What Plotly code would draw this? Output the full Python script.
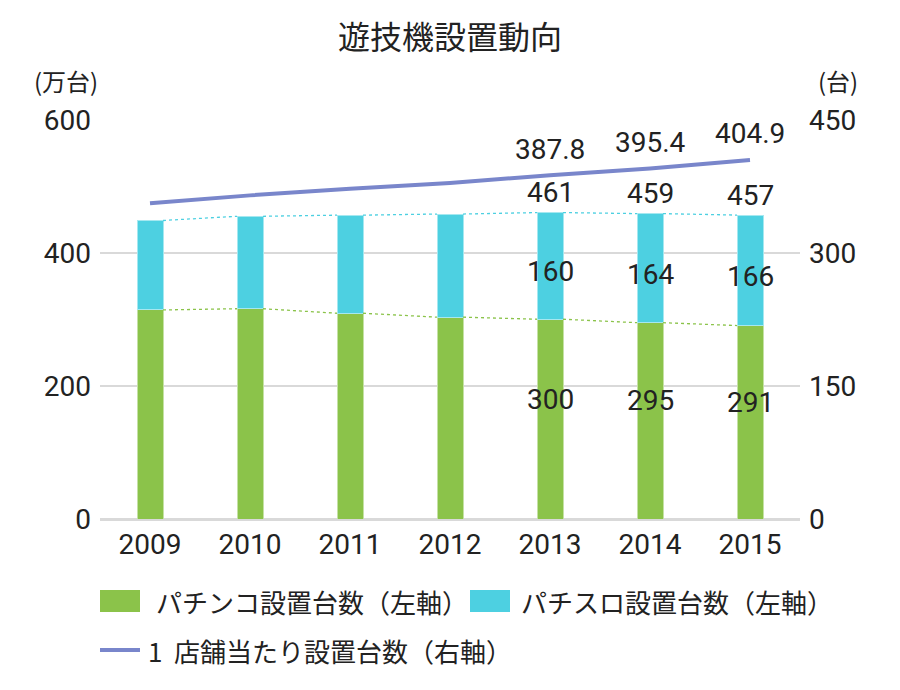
import plotly.graph_objects as go

years = [2009, 2010, 2011, 2012, 2013, 2014, 2015]
pachinko = [314.4, 316.2, 309.4, 303.5, 300.4, 295.2, 290.9]
pachislot = [134.5, 139.0, 147.5, 155.1, 160.4, 164.0, 166.1]
per_store = [356.2, 365.0, 372.5, 378.9, 387.8, 395.4, 404.9]
label_years = [2013, 2014, 2015]

left_ticks = [0, 200, 400, 600]
right_ticks = [0, 150, 300, 450]

title_text = "遊技機設置動向"
name_pachinko = "パチンコ設置台数（左軸）"
name_pachislot = "パチスロ設置台数（左軸）"
name_store = "1\u00a0\u00a0店舗当たり設置台数（右軸）"
left_unit = "(万台)"
right_unit = "(台)"

GREEN = "#8BC34A"
GREEN_EDGE = "#C5E1A5"
CYAN = "#4DD0E1"
CYAN_EDGE = "#A5E8F0"
LINE = "#7986CB"
TXT = "#222222"
GRID = "#D9D9D9"
NUMF = "Roboto, Noto Sans CJK JP, sans-serif"
JPF = "Noto Sans CJK JP, sans-serif"

W, H = 900, 690
PL, PR, PT, PB = 100, 100, 120, 171
PW, PH = W - PL - PR, H - PT - PB


def px_x(px):
    return (px - PL) / PW


def px_y(py):
    return (H - PB - py) / PH


BW = 0.26
totals = [a + b for a, b in zip(pachinko, pachislot)]

fig = go.Figure()

fig.add_trace(go.Bar(x=years, y=pachinko, width=BW, name=name_pachinko,
                     marker=dict(color=GREEN, line=dict(color=GREEN_EDGE, width=1)),
                     showlegend=False, hoverinfo="skip"))
fig.add_trace(go.Bar(x=years, y=pachislot, width=BW, name=name_pachislot,
                     marker=dict(color=CYAN, line=dict(color=CYAN_EDGE, width=1)),
                     showlegend=False, hoverinfo="skip"))

# dotted connectors between bar tops
for series, col in [(pachinko, GREEN), (totals, CYAN)]:
    for i in range(len(years) - 1):
        fig.add_trace(go.Scatter(x=[years[i] + BW / 2, years[i + 1] - BW / 2], y=[series[i], series[i + 1]],
                                 mode="lines", line=dict(color=col, width=1.3, dash="dot"),
                                 showlegend=False, hoverinfo="skip"))

fig.add_trace(go.Scatter(x=years, y=per_store, yaxis="y2", mode="lines", name=name_store,
                         line=dict(color=LINE, width=4), showlegend=False, hoverinfo="skip"))

ann = []
for i, yr in enumerate(years):
    if yr not in label_years:
        continue
    ann.append(dict(x=yr, y=pachinko[i] / 2, text=f"{pachinko[i]:.0f}", showarrow=False, yanchor="middle", yshift=20,
                    font=dict(family=NUMF, size=28, color=TXT)))
    ann.append(dict(x=yr, y=pachinko[i] + pachislot[i] / 2, text=f"{pachislot[i]:.0f}", showarrow=False,
                    yanchor="middle", yshift=-6, font=dict(family=NUMF, size=28, color=TXT)))
    ann.append(dict(x=yr, y=totals[i], text=f"{totals[i]:.0f}", showarrow=False, yanchor="middle", yshift=20,
                    font=dict(family=NUMF, size=28, color=TXT)))
    ann.append(dict(x=yr, y=per_store[i], yref="y2", text=f"{per_store[i]:.1f}", showarrow=False, yanchor="middle",
                    yshift=26, font=dict(family=NUMF, size=28, color=TXT)))

# axis unit labels
ann.append(dict(x=px_x(66), y=px_y(80), xref="paper", yref="paper", text=left_unit, showarrow=False,
                xanchor="center", yanchor="middle", font=dict(family=JPF, size=24, color=TXT)))
ann.append(dict(x=px_x(838), y=px_y(80), xref="paper", yref="paper", text=right_unit, showarrow=False,
                xanchor="center", yanchor="middle", font=dict(family=JPF, size=24, color=TXT)))

# legend (drawn manually)
legend_items = [
    dict(kind="rect", color=GREEN, x0=100, x1=140, yc=601, tx=154, text=name_pachinko),
    dict(kind="rect", color=CYAN, x0=470, x1=510, yc=601, tx=519, text=name_pachislot),
    dict(kind="line", color=LINE, x0=100, x1=140, yc=650, tx=146, text=name_store),
]
shapes = []
for it in legend_items:
    if it["kind"] == "rect":
        shapes.append(dict(type="rect", xref="paper", yref="paper", x0=px_x(it["x0"]), x1=px_x(it["x1"]),
                           y0=px_y(it["yc"] - 11), y1=px_y(it["yc"] + 11), fillcolor=it["color"],
                           line=dict(width=0)))
    else:
        shapes.append(dict(type="line", xref="paper", yref="paper", x0=px_x(it["x0"]), x1=px_x(it["x1"]),
                           y0=px_y(it["yc"]), y1=px_y(it["yc"]), line=dict(color=it["color"], width=4)))
    ann.append(dict(x=px_x(it["tx"]), y=px_y(it["yc"]), xref="paper", yref="paper", text=it["text"],
                    showarrow=False, xanchor="left", yanchor="middle",
                    font=dict(family=JPF, size=26, color=TXT)))

fig.update_layout(
    width=W, height=H,
    margin=dict(l=PL, r=PR, t=PT, b=PB),
    paper_bgcolor="white", plot_bgcolor="white",
    barmode="stack",
    showlegend=False,
    title=dict(text=title_text, x=0.5, xanchor="center", y=1 - 38 / H, yanchor="middle",
               font=dict(family=JPF, size=32, color=TXT)),
    xaxis=dict(range=[2008.5, 2015.5], tickvals=years, ticktext=[str(y) for y in years], showgrid=False,
               zeroline=False, showline=False, ticks="", tickfont=dict(family=NUMF, size=28, color=TXT),
               ticklabelstandoff=6),
    yaxis=dict(range=[0, 600], tickvals=left_ticks, showgrid=True, gridcolor=GRID, gridwidth=2,
               zeroline=True, zerolinecolor=GRID, zerolinewidth=3, showline=False, ticks="",
               tickfont=dict(family=NUMF, size=28, color=TXT), ticklabelstandoff=8),
    yaxis2=dict(range=[0, 450], tickvals=right_ticks, overlaying="y", side="right", showgrid=False,
                zeroline=False, showline=False, ticks="", tickfont=dict(family=NUMF, size=28, color=TXT),
                ticklabelstandoff=8),
    shapes=shapes,
    annotations=ann,
)

fig.write_html("out.html")
